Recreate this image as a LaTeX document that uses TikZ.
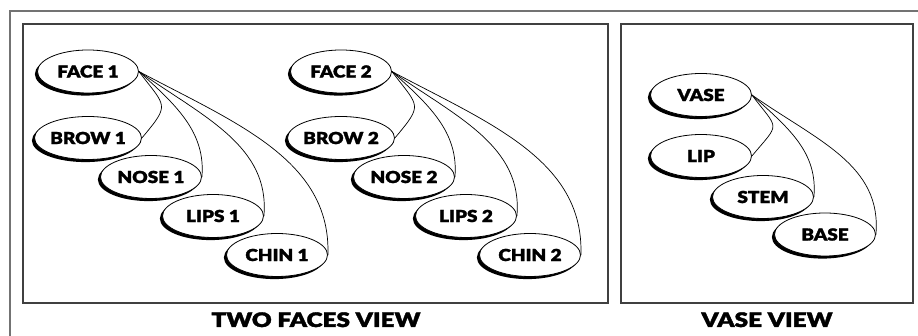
\documentclass[tikz,border=0pt]{standalone}
\usepackage{fontspec}
\newfontfamily\heavy{Lato Black}[FakeBold=1.6, FakeStretch=1.15]
\newfontfamily\heavycap{Lato Black}[FakeBold=1.8, FakeStretch=1.22]
\usetikzlibrary{shapes.geometric,shadows}

\tikzset{
  part/.style={ellipse, draw, line width=0.8pt, fill=white, inner sep=0pt,
    minimum width=101pt, minimum height=43pt,
    font=\heavy\fontsize{16.5}{18}\selectfont,
    drop shadow={shadow xshift=-2.6pt, shadow yshift=-2.6pt, fill=black, opacity=1}},
  panel/.style={draw=black!75, line width=1.2pt},
  frame/.style={draw=black!55, line width=1.5pt},
  caption/.style={anchor=base, inner sep=0pt, font=\heavycap\fontsize{20}{22}\selectfont},
  link/.style={line width=0.7pt},
  lvA/.style={out=-53, in=50, out distance=45pt, in distance=45pt},
  lvB/.style={out=-42, in=85, out distance=50pt, in distance=45pt},
  lvC/.style={out=-35, in=85, out distance=80pt, in distance=70pt},
  lvD/.style={out=-28, in=88, out distance=110pt, in distance=95pt},
}

\begin{document}
\begin{tikzpicture}[x=1pt, y=1pt]
  \useasboundingbox (0,0) rectangle (918,336);

  % outer frame, open at the right and bottom
  \draw[frame] (918,325) -- (10,325) -- (10,0);

  % the two panels
  \draw[panel] (23,33) rectangle (608,312);
  \draw[panel] (621,33) rectangle (913,312);

  % first face
  \node[part] (f1)  at (88,264.5) {FACE 1};
  \node[part] (b1)  at (88,198)   {BROW 1};
  \node[part] (n1)  at (151,159)  {NOSE 1};
  \node[part] (l1)  at (213,120)  {LIPS 1};
  \node[part] (c1)  at (277,81)   {CHIN 1};

  % second face
  \node[part] (f2)  at (341,264.5) {FACE 2};
  \node[part] (b2)  at (341,198)   {BROW 2};
  \node[part] (n2)  at (404,159)   {NOSE 2};
  \node[part] (l2)  at (466,120)   {LIPS 2};
  \node[part] (c2)  at (530,81)    {CHIN 2};

  % vase
  \node[part] (vs)  at (701,241)   {VASE};
  \node[part] (lp)  at (701,180)   {LIP};
  \node[part] (st)  at (763,139)   {STEM};
  \node[part] (bs)  at (825,101.5) {BASE};

  % part-of links
  \draw[link] (f1.east) to[lvA] (b1.east);
  \draw[link] (f1.east) to[lvB] (n1.east);
  \draw[link] (f1.east) to[lvC] (l1.east);
  \draw[link] (f1.east) to[lvD] (c1.east);

  \draw[link] (f2.east) to[lvA] (b2.east);
  \draw[link] (f2.east) to[lvB] (n2.east);
  \draw[link] (f2.east) to[lvC] (l2.east);
  \draw[link] (f2.east) to[lvD] (c2.east);

  \draw[link] (vs.east) to[lvA] (lp.east);
  \draw[link] (vs.east) to[lvB] (st.east);
  \draw[link] (vs.east) to[lvC] (bs.east);

  % captions
  \node[caption] (cap1) at (316,9) {TWO FACES VIEW};
  \node[caption] (cap2) at (767,9) {VASE VIEW};
\end{tikzpicture}
\end{document}
